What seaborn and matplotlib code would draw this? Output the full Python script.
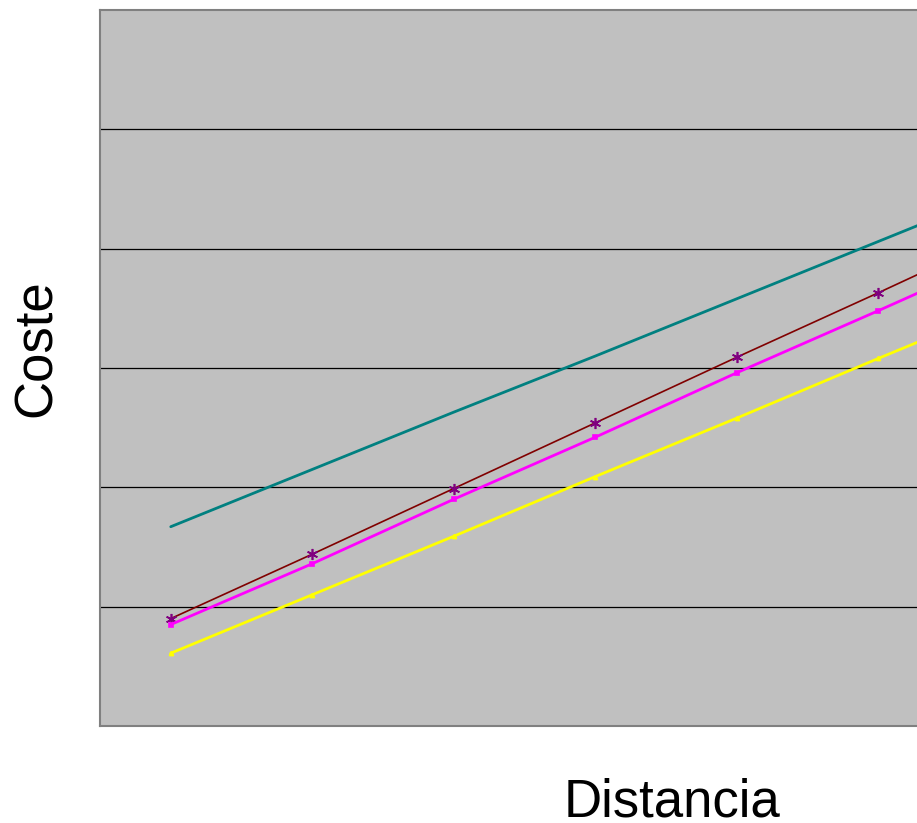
import pandas as pd
import matplotlib
matplotlib.use('Agg')
import matplotlib.pyplot as plt
import seaborn as sns

# valores (unidades arbitrarias, rejilla cada 10)
distancia = [1, 2, 3, 4, 5, 6, 7]
serie_teal = [16.7, 21.5, 26.3, 31.0, 35.8, 40.6, 45.4]
serie_granate = [9.0, 14.4, 19.9, 25.4, 30.9, 36.3, 41.8]
serie_magenta = [8.5, 13.6, 19.0, 24.2, 29.6, 34.8, 40.1]
serie_amarilla = [6.1, 11.0, 15.9, 20.9, 25.8, 30.8, 35.7]

df = pd.DataFrame({
    'pos': list(range(len(distancia))) * 4,
    'coste': serie_teal + serie_granate + serie_magenta + serie_amarilla,
    'serie': (['teal'] * 7 + ['granate'] * 7 + ['magenta'] * 7 + ['amarilla'] * 7),
})

sns.set_theme(style='white')
plt.rcParams['font.family'] = ['Liberation Sans', 'DejaVu Sans']

fig = plt.figure(figsize=(9.17, 8.23), dpi=100)
W, H = 917, 823
ax = fig.add_axes([100 / W, (823 - 726) / H, 1132 / W, 716 / H])
ax.set_facecolor('#C0C0C0')

estilos = {
    'teal': dict(color='#008080', lw=2.0, marker=None, ms=0, mec='#008080'),
    'granate': dict(color='#800000', lw=1.2, marker=(6, 2, 0), ms=8, mec='#800080'),
    'magenta': dict(color='#FF00FF', lw=2.0, marker='s', ms=3, mec='#FF00FF'),
    'amarilla': dict(color='#FFFF00', lw=2.0, marker='^', ms=3, mec='#FFFF00'),
}

for nombre, st in estilos.items():
    sub = df[df['serie'] == nombre]
    sns.lineplot(data=sub, x='pos', y='coste', ax=ax, color=st['color'],
                 linewidth=st['lw'], marker=st['marker'], markersize=st['ms'],
                 markeredgecolor=st['mec'], markerfacecolor=st['mec'],
                 markeredgewidth=1.2, legend=False, clip_on=False)

ax.set_xlim(-0.5, 7.5)
ax.set_ylim(0, 60)
ax.set_yticks([10, 20, 30, 40, 50])
ax.set_xticks([])
ax.yaxis.grid(True, color='black', linewidth=0.9)
ax.tick_params(left=False, labelleft=False, bottom=False, labelbottom=False)
for s in ax.spines.values():
    s.set_color('#808080')
    s.set_linewidth(1.5)

ax.set_xlabel('Distancia', fontsize=38, color='black')
ax.set_ylabel('Coste', fontsize=38, color='black')
ax.xaxis.set_label_coords(0.5053, -0.072)
ax.yaxis.set_label_coords(-0.0336, 0.528)

fig.savefig('out.png', dpi=100)
